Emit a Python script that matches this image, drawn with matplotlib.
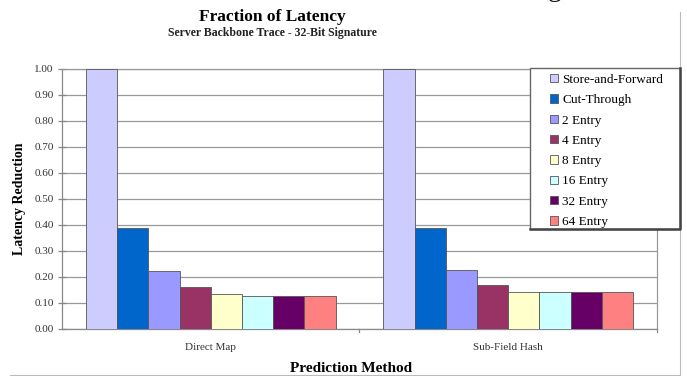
import matplotlib
matplotlib.use("Agg")
import matplotlib.pyplot as plt
import numpy as np
from matplotlib.patches import Rectangle, Patch
from matplotlib.lines import Line2D

categories = ["Direct Map", "Sub-Field Hash"]
series = ["Store-and-Forward", "Cut-Through", "2 Entry", "4 Entry",
          "8 Entry", "16 Entry", "32 Entry", "64 Entry"]
direct_map = [1.00, 0.39, 0.224, 0.161, 0.133, 0.128, 0.128, 0.128]
sub_field_hash = [1.00, 0.39, 0.228, 0.170, 0.143, 0.143, 0.143, 0.143]
colors = ["#CCCCFF", "#0066CC", "#9999FF", "#993366",
          "#FFFFCC", "#CCFFFF", "#660066", "#FF8080"]
yticks = [0.0, 0.1, 0.2, 0.3, 0.4, 0.5, 0.6, 0.7, 0.8, 0.9, 1.0]

plt.rcParams['font.family'] = ['Liberation Serif', 'DejaVu Serif']

W, H = 687, 376
fig = plt.figure(figsize=(W / 100, H / 100), dpi=100)
ax = fig.add_axes([62 / W, 1 - 329 / H, (657 - 62) / W, (329 - 69) / H])

values = np.array([direct_map, sub_field_hash])
n = len(series)
group_w = 0.84
bw = group_w / n
x = np.arange(len(categories))
for i in range(n):
    ax.bar(x - group_w / 2 + bw * (i + 0.5), values[:, i], width=bw,
           color=colors[i], edgecolor="#555555", linewidth=0.6, zorder=3)

ax.set_xlim(-0.5, len(categories) - 0.5)
ax.set_ylim(0, 1.0)
ax.set_yticks(yticks)
ax.set_yticklabels([f"{v:.2f}" for v in yticks], fontsize=8, color="#333333")
ax.yaxis.grid(True, color="#999999", linewidth=0.9, zorder=0)
ax.set_xticks(x)
ax.set_xticklabels(categories, fontsize=8, color="#333333")
ax.tick_params(axis='x', length=0, pad=10)
ax.tick_params(axis='y', direction='inout', length=6, color="#888888", width=0.9, pad=3)
# category boundary ticks
for b in [0.5, 1.5]:
    ax.plot([b, b], [0, -0.012], color="#888888", lw=0.9, clip_on=False, zorder=4)
for s in ax.spines.values():
    s.set_color("#999999")
    s.set_linewidth(0.9)
ax.spines['left'].set_color("#888888")
ax.spines['bottom'].set_color("#888888")

ax.set_ylabel("Latency Reduction", fontsize=10, fontweight='bold', labelpad=6)
fig.text(351 / W, 1 - 369 / H, "Prediction Method", fontsize=11, fontweight='bold',
         ha='center', va='center')
fig.text(272 / W, 1 - 17 / H, "Fraction of Latency", fontsize=12.5, fontweight='bold',
         ha='center', va='center')
fig.text(272 / W, 1 - 33 / H, "Server Backbone Trace - 32-Bit Signature", fontsize=8.5,
         fontweight='bold', ha='center', va='center', color="#222222")

# legend box (with darker right/bottom edge as in the reference)
fig.patches.append(Rectangle((530 / W, 1 - 229 / H), 150 / W, 161 / H,
                             transform=fig.transFigure, facecolor='white',
                             edgecolor="#666666", linewidth=1.0, zorder=5))
fig.add_artist(Line2D([680 / W, 680 / W, 530 / W], [1 - 68 / H, 1 - 229 / H, 1 - 229 / H],
                      transform=fig.transFigure, color="#444444", lw=1.8, zorder=5.5))
handles = [Patch(facecolor=c, edgecolor="#555555", linewidth=0.6) for c in colors]
leg = fig.legend(handles, series, loc='upper left',
                 bbox_to_anchor=(540 / W, 1 - 64 / H), frameon=False,
                 fontsize=9.5, handlelength=0.6, handleheight=0.6,
                 handletextpad=0.35, labelspacing=0.63, borderpad=0.25)
leg.set_zorder(6)

# chart-area frame lines and cropped text fragment
fig.add_artist(Line2D([680 / W, 680 / W], [1 - 12 / H, 1 - 375 / H],
                      transform=fig.transFigure, color="#BBBBBB", lw=0.8))
fig.add_artist(Line2D([10 / W, 680 / W], [1 - 375 / H, 1 - 375 / H],
                      transform=fig.transFigure, color="#BBBBBB", lw=0.8))
fig.text(548 / W, 1 + 4 / H, "g", fontsize=20, ha='left', va='baseline', color="#111111")

fig.savefig("out.png", dpi=100)
